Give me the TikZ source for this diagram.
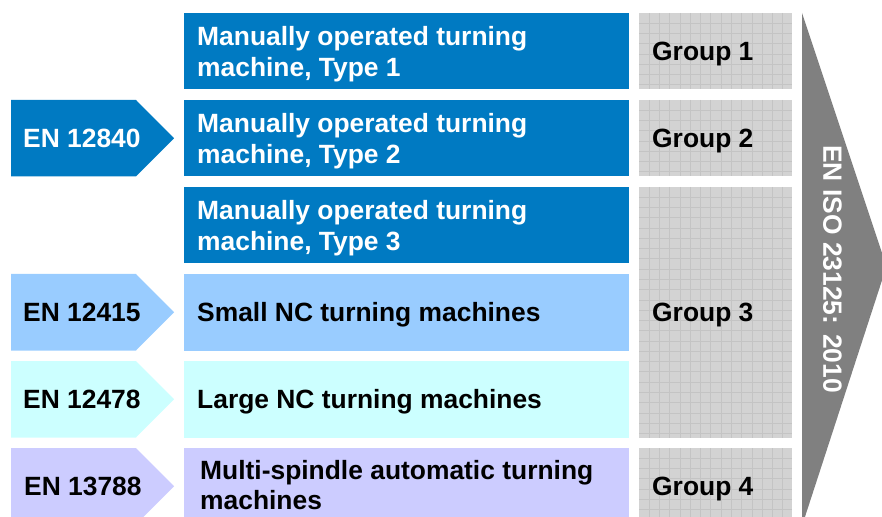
\documentclass[tikz,border=0pt]{standalone}
\usepackage{fontspec}
\setmainfont{Liberation Sans}
\definecolor{dblue}{RGB}{0,122,194}
\definecolor{lblue}{RGB}{153,204,255}
\definecolor{lcyan}{RGB}{204,255,255}
\definecolor{lviolet}{RGB}{204,204,255}
\definecolor{grpfill}{RGB}{211,211,211}
\definecolor{grpline}{RGB}{196,196,196}
\definecolor{arrowgray}{RGB}{128,128,128}
\newcommand\grpgrid[4]{%
  \begin{scope}
    \clip (#1,#2) rectangle ++(#3,#4);
    \foreach \k in {1,...,15} \draw[grpline, line width=0.8bp] ({#1+\k*10.27},#2) -- ++(0,#4);
    \foreach \k in {1,...,25} \draw[grpline, line width=0.8bp] (#1,{#2+\k*10.27}) -- ++(#3,0);
  \end{scope}}
\begin{document}
\begin{tikzpicture}[x=1bp,y=-1bp,
  txt/.style={font=\bfseries\fontsize{26.4bp}{30.7bp}\selectfont, inner sep=0pt, text depth=0pt, align=left, anchor=west},
  midbox/.style={minimum width=445bp, minimum height=76.5bp, inner sep=0pt, draw=none},
  grpbox/.style={minimum width=153bp, inner sep=0pt, draw=none, fill=grpfill}]
\useasboundingbox (0,0) rectangle (882,517);
\clip (0,0) rectangle (882,517);

% middle boxes
\node[midbox, fill=dblue]   (m1) at (406.5,51.25)  {};
\node[midbox, fill=dblue]   (m2) at (406.5,138.25) {};
\node[midbox, fill=dblue]   (m3) at (406.5,225.25) {};
\node[midbox, fill=lblue]   (m4) at (406.5,312.25) {};
\node[midbox, fill=lcyan]   (m5) at (406.5,399.25) {};
\node[midbox, fill=lviolet] (m6) at (406.5,486.25) {};

\node[txt, text=white] (t1) at (197,51.25)  {Manually operated turning\\machine, Type 1};
\node[txt, text=white] (t2) at (197,138.25) {Manually operated turning\\machine, Type 2};
\node[txt, text=white] (t3) at (197,225.25) {Manually operated turning\\machine, Type 3};
\node[txt] (t4) at (197,312.25) {Small NC turning machines};
\node[txt] (t5) at (197,399.25) {Large NC turning machines};
\node[txt] (t6) at (200,485)    {Multi-spindle automatic turning\\machines};

% group boxes
\node[grpbox, minimum height=76.5bp] (g1) at (715.5,51.25)  {};
\node[grpbox, minimum height=76.5bp] (g2) at (715.5,138.25) {};
\node[grpbox, minimum height=250.5bp] (g3) at (715.5,312.25) {};
\node[grpbox, minimum height=76.5bp] (g4) at (715.5,486.25) {};
\grpgrid{639}{13}{153}{76.5}
\grpgrid{639}{100}{153}{76.5}
\grpgrid{639}{187}{153}{250.5}
\grpgrid{639}{448}{153}{76.5}
\node[txt] (gt1) at (652,51.25)  {Group 1};
\node[txt] (gt2) at (652,138.25) {Group 2};
\node[txt] (gt3) at (652,312.25) {Group 3};
\node[txt] (gt4) at (652,486.25) {Group 4};

% left tags
\fill[dblue]   (11,100) -- (136,100) -- (174,138.25) -- (136,176.5) -- (11,176.5) -- cycle;
\fill[lblue]   (11,274) -- (136,274) -- (174,312.25) -- (136,350.5) -- (11,350.5) -- cycle;
\fill[lcyan]   (11,361) -- (136,361) -- (174,399.25) -- (136,437.5) -- (11,437.5) -- cycle;
\fill[lviolet] (11,448) -- (136,448) -- (174,486.25) -- (136,524.5) -- (11,524.5) -- cycle;
\node[txt, text=white] (e1) at (23,138.25) {EN 12840};
\node[txt] (e2) at (23,312.25) {EN 12415};
\node[txt] (e3) at (23,399.25) {EN 12478};
\node[txt] (e4) at (24,486.25) {EN 13788};

% big arrow
\fill[arrowgray] (802,13) -- (886.5,266.5) -- (802,526) -- cycle;
\node[txt, anchor=center, rotate=-90, text=white] (iso) at (832.5,269) {EN ISO 23125: 2010};
\end{tikzpicture}
\end{document}
